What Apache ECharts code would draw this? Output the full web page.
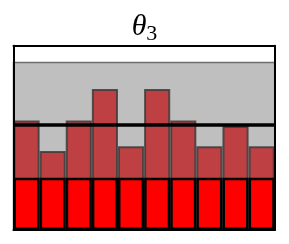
<!DOCTYPE html>
<html><head><meta charset="utf-8">
<script src="https://cdn.jsdelivr.net/npm/echarts@6/dist/echarts.min.js"></script>
<style>html,body{margin:0;padding:0;background:#fff}#c{width:289px;height:244px}</style>
</head><body><div id="c"></div>
<script>
const categories = ['1','2','3','4','5','6','7','8','9','10'];
const upperValues = [0.654, 0.472, 0.654, 0.842, 0.5, 0.842, 0.654, 0.5, 0.621, 0.5];
const lowerValues = [0.312, 0.312, 0.312, 0.312, 0.312, 0.312, 0.312, 0.312, 0.312, 0.312];
const bandTop = 1.0;
const refLine = 0.625;
const yMax = 1.1;

const chart = echarts.init(document.getElementById('c'), null, {renderer:'canvas'});
const axisBase = {
  axisTick: {show: false}, axisLabel: {show: false}, splitLine: {show: false}
};
chart.setOption({
  animation: false,
  title: {
    text: '{t|θ}{s|3}',
    left: 'center',
    top: 4,
    textStyle: {
      fontWeight: 'normal',
      rich: {
        t: {fontFamily: 'Liberation Serif', fontStyle: 'italic', fontWeight: 'normal', fontSize: 30, color: '#000'},
        s: {fontFamily: 'Liberation Serif', fontWeight: 'normal', fontSize: 22, color: '#000', padding: [14, 0, 0, 0]}
      }
    }
  },
  grid: {left: 13.5, right: 14.3, top: 45.7, bottom: 14, containLabel: false},
  xAxis: [
    Object.assign({type: 'category', data: categories, position: 'bottom', z: 10,
     axisLine: {show: true, onZero: false, lineStyle: {color: '#000', width: 2}}}, axisBase),
    Object.assign({type: 'category', data: categories, position: 'top', z: 10,
     axisLine: {show: true, onZero: false, lineStyle: {color: '#000', width: 2}}}, axisBase)
  ],
  yAxis: [
    Object.assign({type: 'value', min: 0, max: yMax, position: 'left', z: 10,
     axisLine: {show: true, onZero: false, lineStyle: {color: '#000', width: 2}}}, axisBase),
    Object.assign({type: 'value', min: 0, max: yMax, position: 'right', z: 10,
     axisLine: {show: true, onZero: false, lineStyle: {color: '#000', width: 2}}}, axisBase)
  ],
  series: [
    {
      type: 'bar', data: upperValues, barWidth: '100%', barGap: '-100%', z: 2,
      itemStyle: {color: '#bf4042', borderColor: 'rgba(60,60,60,0.85)', borderWidth: 2},
      markArea: {
        silent: true,
        itemStyle: {color: '#bfbfbf', borderColor: '#6e6e6e', borderWidth: 1.5},
        data: [[{yAxis: 0}, {yAxis: bandTop}]]
      }
    },
    {
      type: 'bar', data: lowerValues, barWidth: '100%', barGap: '-100%', z: 3,
      itemStyle: {color: '#ff0000', borderColor: '#000', borderWidth: 2.5},
      markLine: {
        silent: true, symbol: 'none', label: {show: false},
        lineStyle: {color: '#000', width: 3.5, type: 'solid'},
        data: [{yAxis: refLine}]
      }
    }
  ]
});
</script></body></html>
